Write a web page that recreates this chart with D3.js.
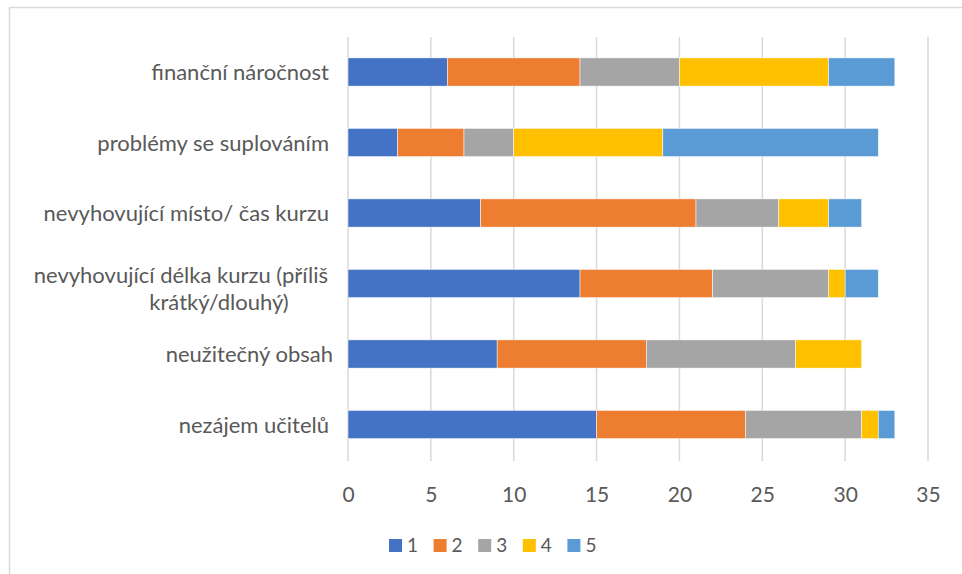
<!DOCTYPE html>
<html><head><meta charset="utf-8">
<script src="https://cdn.jsdelivr.net/npm/d3@7"></script>
<style>body{margin:0;background:#fff}svg{display:block}text{font-family:Lato,sans-serif}</style>
</head><body>
<script>
const categories = ["finanční náročnost","problémy se suplováním","nevyhovující místo/ čas kurzu","nevyhovující délka kurzu (příliš krátký/dlouhý)","neužitečný obsah","nezájem učitelů"];
const seriesNames = ["1","2","3","4","5"];
const s1 = [6,3,8,14,9,15];
const s2 = [8,4,13,8,9,9];
const s3 = [6,3,5,7,9,7];
const s4 = [9,9,3,1,4,1];
const s5 = [4,13,2,2,0,1];
const xTicks = [0,5,10,15,20,25,30,35];
const colors = ["#4472C4","#ED7D31","#A5A5A5","#FFC000","#5B9BD5"];

const W=962,H=574;
const svg=d3.select("body").append("svg").attr("width",W).attr("height",H);
svg.append("rect").attr("x",9.5).attr("y",7.5).attr("width",W).attr("height",H).attr("fill","#fff").attr("stroke","#d9d9d9").attr("stroke-width",1.5);

const x=d3.scaleLinear().domain([0,35]).range([348,928]);
const y=d3.scaleBand().domain(categories).range([36.75,459.75]).paddingInner(0.6).paddingOuter(0.3);

const g=svg.append("g");
g.selectAll("line.grid").data(xTicks).join("line").attr("class","grid")
 .attr("x1",d=>x(d)).attr("x2",d=>x(d)).attr("y1",37).attr("y2",461)
 .attr("stroke","#d9d9d9").attr("stroke-width",1.5);

const table=categories.map((c,i)=>({cat:c,"1":s1[i],"2":s2[i],"3":s3[i],"4":s4[i],"5":s5[i]}));
const stack=d3.stack().keys(seriesNames)(table);
g.selectAll("g.series").data(stack).join("g").attr("fill",(d,i)=>colors[i])
 .selectAll("rect").data(d=>d).join("rect")
 .attr("x",d=>x(d[0])).attr("width",d=>x(d[1])-x(d[0]))
 .attr("y",d=>y(d.data.cat)).attr("height",y.bandwidth())
 .attr("stroke","#fff").attr("stroke-width",0.5);

const axis=d3.axisBottom(x).tickValues(xTicks).tickSize(0).tickPadding(0);
const ax=svg.append("g").attr("transform","translate(0,502)").call(axis);
ax.select(".domain").remove();
ax.selectAll("text").attr("font-size",21).attr("fill","#595959").attr("dy","0").attr("font-family","Lato,sans-serif");

// category labels
const labG=svg.append("g").attr("font-size",22).attr("fill","#595959");
categories.forEach(c=>{
  const cy=y(c)+y.bandwidth()/2;
  if(c.startsWith("nevyhovující délka")){
    labG.append("text").attr("x",328).attr("y",cy-1).attr("text-anchor","end").text("nevyhovující délka kurzu (příliš");
    labG.append("text").attr("x",219).attr("y",cy+26).attr("text-anchor","middle").text("krátký/dlouhý)");
  } else {
    labG.append("text").attr("x",c==="neužitečný obsah"?333:329).attr("y",cy+8).attr("text-anchor","end").text(c);
  }
});

// legend
const leg=svg.append("g");
seriesNames.forEach((s,i)=>{
  const lx=389+i*44.6;
  leg.append("rect").attr("x",lx).attr("y",539).attr("width",13).attr("height",13).attr("fill",colors[i]);
  leg.append("text").attr("x",lx+18).attr("y",552).attr("font-size",19).attr("fill","#595959").text(s);
});
</script>
</body></html>
